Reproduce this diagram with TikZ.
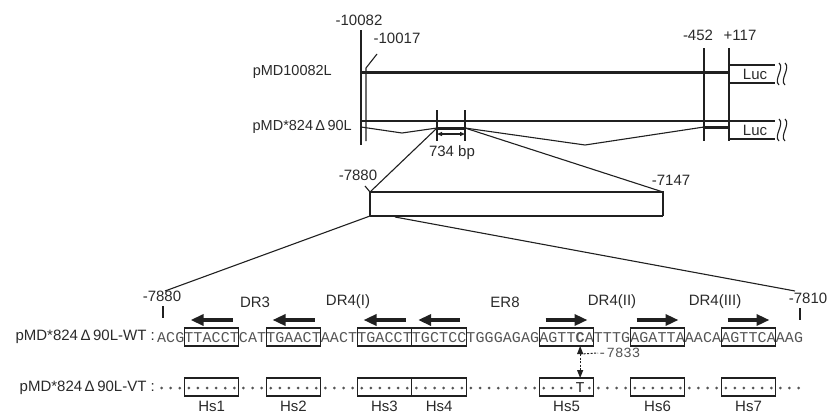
\documentclass[tikz,border=0pt]{standalone}
\usepackage{fontspec}
\setmainfont{Liberation Sans}
\newfontfamily\seqfont{Liberation Mono}
\usetikzlibrary{arrows.meta}
\definecolor{ink}{HTML}{202020}
\definecolor{txt}{HTML}{2A2A2A}
\definecolor{seqc}{HTML}{555555}
\begin{document}
\begin{tikzpicture}[x=1pt,y=-1pt,
  lbl/.style={font=\fontsize{15}{15}\selectfont, text=txt, inner sep=0pt},
  rowname/.style={font=\fontsize{14.5}{14.5}\selectfont, text=txt, inner sep=0pt},
  seqname/.style={font=\fontsize{15}{15}\selectfont, text=txt, inner sep=0pt},
  thinln/.style={draw=ink, line width=1.1pt},
  heavyln/.style={draw=ink, line width=3pt},
  dirarrow/.style={draw=ink, line width=3.6pt, -{Triangle[length=13pt,width=11pt]}},
  hexbox/.style={draw=ink, line width=1.1pt},
  base/.style={font=\seqfont\fontsize{15}{15}\selectfont, text=seqc, inner sep=0pt, anchor=base},
  smalltip/.style={{Triangle[length=5pt,width=4pt]}-{Triangle[length=5pt,width=4pt]}}
]
\useasboundingbox[fill=white] (0,0) rectangle (829,413);

% ---------- top: constructs ----------
\node[lbl] (l10082) at (359,20) {-10082};
\node[lbl] (l10017) at (397,38) {-10017};
\node[lbl] (l452) at (698,35) {-452};
\node[lbl] (l117) at (740,35) {+117};

\coordinate (v1t) at (361,30);  \coordinate (v1b) at (361,145);
\coordinate (v2t) at (377,54);  \coordinate (v2k) at (366,68); \coordinate (v2b) at (366,141);
\coordinate (v3t) at (704,48);  \coordinate (v3b) at (704,141);
\coordinate (v4t) at (729,48);  \coordinate (v4b) at (729,141);
\draw[thinln] (v1t) -- (v1b);
\draw[thinln] (v2t) -- (v2k) -- (v2b);
\draw[thinln] (v3t) -- (v3b);
\draw[thinln] (v4t) -- (v4b);

% row 1
\node[rowname, anchor=east] (n1) at (332,72) {pMD10082L};
\coordinate (r1a) at (361,72); \coordinate (r1b) at (729,72);
\draw[heavyln] (r1a) -- (r1b);
\draw[thinln] (729,65) -- (775,65);
\draw[thinln] (729,83) -- (775,83);
\node[lbl] (luc1) at (755,74) {Luc};
\foreach \x in {779,785}{
  \draw[thinln] (\x,63) .. controls (\x+6,68) and (\x-6,80) .. (\x,85);
}

% row 2
\node[rowname, anchor=east] (n2) at (352,127) {pMD*824\,Δ\,90L};
\draw[thinln] (361,121) -- (775,121);
\draw[thinln] (729,139) -- (775,139);
\node[lbl] (luc2) at (755,130) {Luc};
\foreach \x in {779,785}{
  \draw[thinln] (\x,119) .. controls (\x+6,124) and (\x-6,136) .. (\x,141);
}
\coordinate (d0) at (361,127);
\coordinate (d1) at (402,133);
\coordinate (fragL) at (437,128);
\coordinate (fragR) at (465,128);
\coordinate (d2) at (585,145);
\coordinate (p452) at (704,127);
\coordinate (p117) at (729,127);
\draw[thinln] (d0) -- (d1) -- (fragL);
\draw[heavyln] (fragL) -- (fragR);
\draw[thinln] (fragR) -- (d2) -- (p452);
\draw[heavyln] (p452) -- (p117);
\draw[thinln] (437,110) -- (437,141);
\draw[thinln] (465,110) -- (465,141);
\draw[thinln, smalltip] (437,134) -- (465,134);
\node[lbl] (bp) at (452,153) {734 bp};

% ---------- enlarged fragment ----------
\coordinate (bxTL) at (370,192); \coordinate (bxTR) at (663,192);
\coordinate (bxBL) at (370,216); \coordinate (bxBR) at (663,216);
\draw[thinln] (fragL) -- (bxTL);
\draw[thinln] (fragR) -- (bxTR);
\draw[thinln] (bxBL) -- (bxTL) -- (bxTR) -- (bxBR);
\draw[draw=ink, line width=2.8pt] (bxBL) -- (bxBR);
\node[lbl] (t7880) at (358,175) {-7880};
\node[lbl] (t7147) at (671,180) {-7147};
\draw[thinln] (365,186) -- (bxTL);

\coordinate (zL) at (165,291);
\coordinate (zR) at (795,291);
\coordinate (bxB2) at (395,217);
\draw[thinln] (bxBL) -- (zL);
\draw[thinln] (bxB2) -- (zR);

% ---------- sequence ----------
\def\xo{157}
\def\w{9.1}
\node[lbl] (s7880) at (162,296) {-7880};
\draw[thinln] (163,306) -- (163,318);
\node[lbl] (s7810) at (808,298) {-7810};
\draw[thinln] (800,308) -- (800,320);

\node[lbl] (dr3) at (255,302) {DR3};
\node[lbl] (dr4a) at (348,302) {DR4(I)};
\node[lbl] (er8) at (505,302) {ER8};
\node[lbl] (dr4b) at (612,302) {DR4(II)};
\node[lbl] (dr4c) at (715,302) {DR4(III)};

\node[seqname, anchor=east] (wt) at (155,337) {pMD*824\,Δ\,90L-WT :};
\node[seqname, anchor=east] (vt) at (155,388) {pMD*824\,Δ\,90L-VT :};

\foreach \ch [count=\i from 0] in {A,C,G,T,T,A,C,C,T,C,A,T,T,G,A,A,C,T,A,A,C,T,T,G,A,C,C,T,T,G,C,T,C,C,T,G,G,G,A,G,A,G,A,G,T,T,{\bfseries C},A,T,T,T,G,A,G,A,T,T,A,A,A,C,A,A,G,T,T,C,A,A,A,G}{
  \node[base] at ({\xo+(\i+0.5)*\w},342) {\ch};
}
\foreach \i in {0,...,45}{
  \fill[seqc] ({\xo+(\i+0.5)*\w},388) circle (1.5pt);
}
\foreach \i in {47,...,70}{
  \fill[seqc] ({\xo+(\i+0.5)*\w},388) circle (1.5pt);
}
\node[base, text=ink] (tmut) at ({\xo+46.5*\w},392) {T};

\foreach \a/\b/\n/\d in {3/9/1/-1,12/18/2/-1,22/28/3/-1,28/34/4/-1,42/48/5/1,52/58/6/1,62/68/7/1}{
  \draw[hexbox] ({\xo+\a*\w},328) rectangle ({\xo+\b*\w},346);
  \draw[hexbox] ({\xo+\a*\w},378) rectangle ({\xo+\b*\w},396);
  \node[lbl] (hs\n) at ({\xo+(\a+\b)/2*\w},406) {Hs\n};
  \draw[dirarrow] ({\xo+(\a+\b)/2*\w-21*\d},320) -- ({\xo+(\a+\b)/2*\w+21*\d},320);
}

% mutation marker
\coordinate (mtop) at ({\xo+46.5*\w},346);
\coordinate (mmid) at ({\xo+46.5*\w},354);
\coordinate (mbot) at ({\xo+46.5*\w},378);
\draw[draw=ink, line width=1.1pt, -{Triangle[length=8pt,width=6pt]}] (mmid) -- (mtop);
\draw[draw=ink, line width=1.1pt, dash pattern=on 2pt off 1.5pt, -{Triangle[length=8pt,width=6pt]}] (mmid) -- (mbot);
\node[base, anchor=west, font=\seqfont\fontsize{14}{14}\selectfont] (m7833) at (598,353) {-7833};
\draw[draw=ink, line width=1pt, dash pattern=on 2pt off 1.5pt] (mmid) -- (m7833.west);
\end{tikzpicture}
\end{document}
